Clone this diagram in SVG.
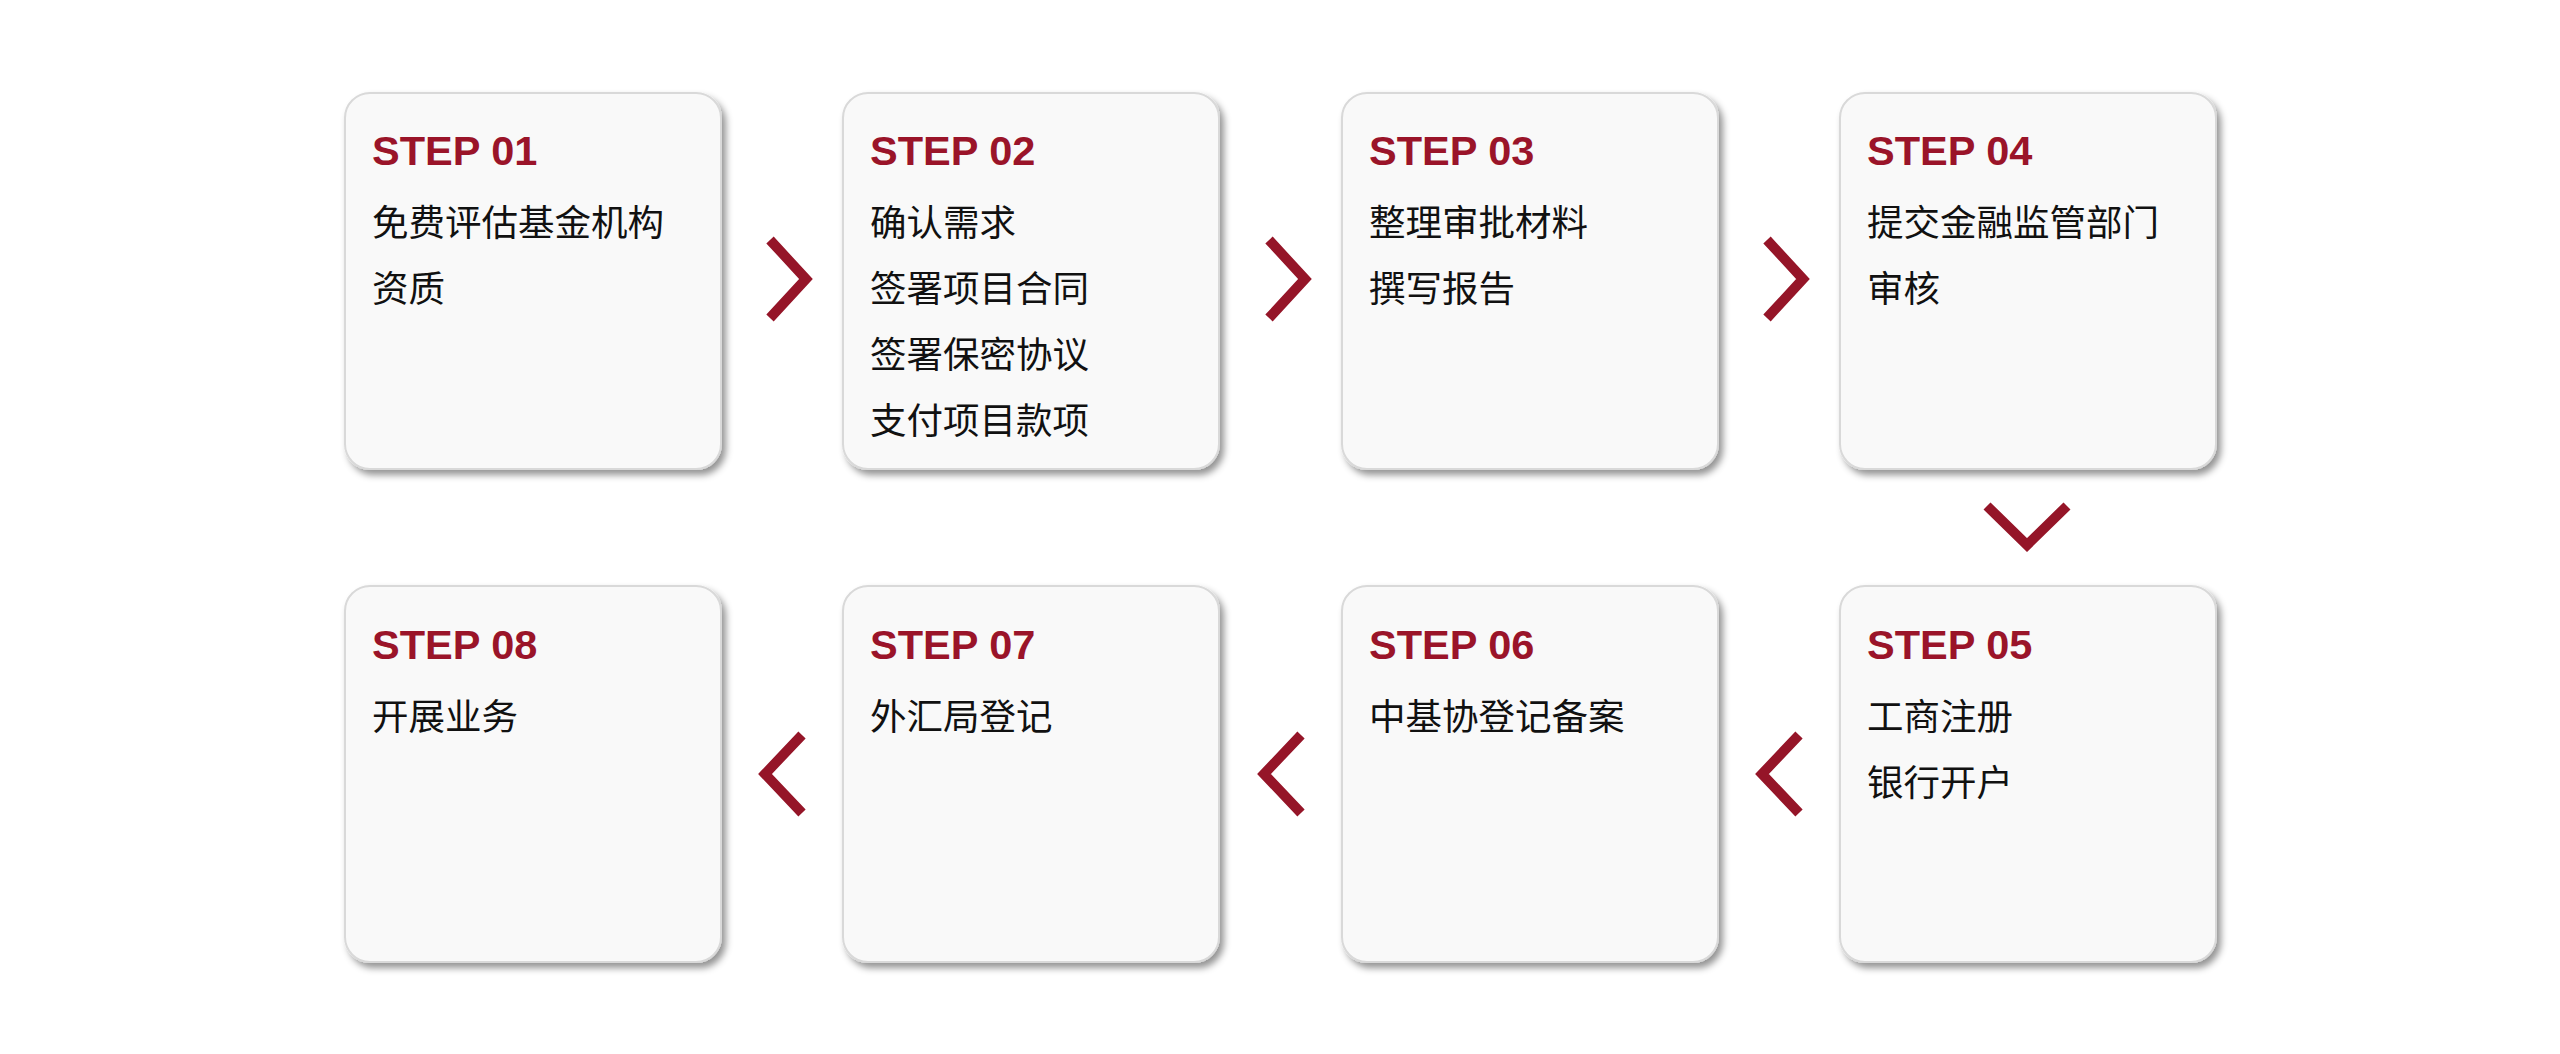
<svg xmlns="http://www.w3.org/2000/svg" width="2560" height="1054" viewBox="0 0 2560 1054">
<defs>
<filter id="sh" x="-10%" y="-10%" width="125%" height="125%">
<feDropShadow dx="4" dy="5" stdDeviation="3.5" flood-color="#000" flood-opacity="0.42"/>
</filter>
</defs>
<style>
.box{fill:#f9f9f9;stroke:#d9d9d9;stroke-width:2;filter:url(#sh)}
.step{font-family:"Liberation Sans",Arial,sans-serif;font-weight:bold;font-size:41.5px;fill:#9a1429}
.t{font-family:"Noto Sans CJK SC","Noto Sans",sans-serif;font-size:36.5px;fill:#111}
.chev{fill:none;stroke:#951528;stroke-width:10;stroke-linejoin:miter;stroke-miterlimit:10}
</style>
<rect width="2560" height="1054" fill="#fff"/>
<g id="connectors">
<polyline class="chev" points="770,240 806,279 770,318"/>
<polyline class="chev" points="1269,240 1305,279 1269,318"/>
<polyline class="chev" points="1767,240 1803,279 1767,318"/>
<polyline class="chev" points="1987,506 2027,545 2067,506"/>
<polyline class="chev" points="1799,735 1762,774 1799,813"/>
<polyline class="chev" points="1301,735 1264,774 1301,813"/>
<polyline class="chev" points="802,735 765,774 802,813"/>
</g>
<g id="step01">
<rect class="box" x="345" y="93" width="376" height="376" rx="25"/>
<text class="step" x="372" y="165">STEP 01</text>
<text class="t" x="372" y="236">免费评估基金机构</text>
<text class="t" x="372" y="302">资质</text>
</g>
<g id="step02">
<rect class="box" x="843" y="93" width="376" height="376" rx="25"/>
<text class="step" x="870" y="165">STEP 02</text>
<text class="t" x="870" y="236">确认需求</text>
<text class="t" x="870" y="302">签署项目合同</text>
<text class="t" x="870" y="368">签署保密协议</text>
<text class="t" x="870" y="434">支付项目款项</text>
</g>
<g id="step03">
<rect class="box" x="1342" y="93" width="376" height="376" rx="25"/>
<text class="step" x="1369" y="165">STEP 03</text>
<text class="t" x="1369" y="236">整理审批材料</text>
<text class="t" x="1369" y="302">撰写报告</text>
</g>
<g id="step04">
<rect class="box" x="1840" y="93" width="376" height="376" rx="25"/>
<text class="step" x="1867" y="165">STEP 04</text>
<text class="t" x="1867" y="236">提交金融监管部门</text>
<text class="t" x="1867" y="302">审核</text>
</g>
<g id="step05">
<rect class="box" x="1840" y="586" width="376" height="376" rx="25"/>
<text class="step" x="1867" y="659">STEP 05</text>
<text class="t" x="1867" y="730">工商注册</text>
<text class="t" x="1867" y="796">银行开户</text>
</g>
<g id="step06">
<rect class="box" x="1342" y="586" width="376" height="376" rx="25"/>
<text class="step" x="1369" y="659">STEP 06</text>
<text class="t" x="1369" y="730">中基协登记备案</text>
</g>
<g id="step07">
<rect class="box" x="843" y="586" width="376" height="376" rx="25"/>
<text class="step" x="870" y="659">STEP 07</text>
<text class="t" x="870" y="730">外汇局登记</text>
</g>
<g id="step08">
<rect class="box" x="345" y="586" width="376" height="376" rx="25"/>
<text class="step" x="372" y="659">STEP 08</text>
<text class="t" x="372" y="730">开展业务</text>
</g>
</svg>
